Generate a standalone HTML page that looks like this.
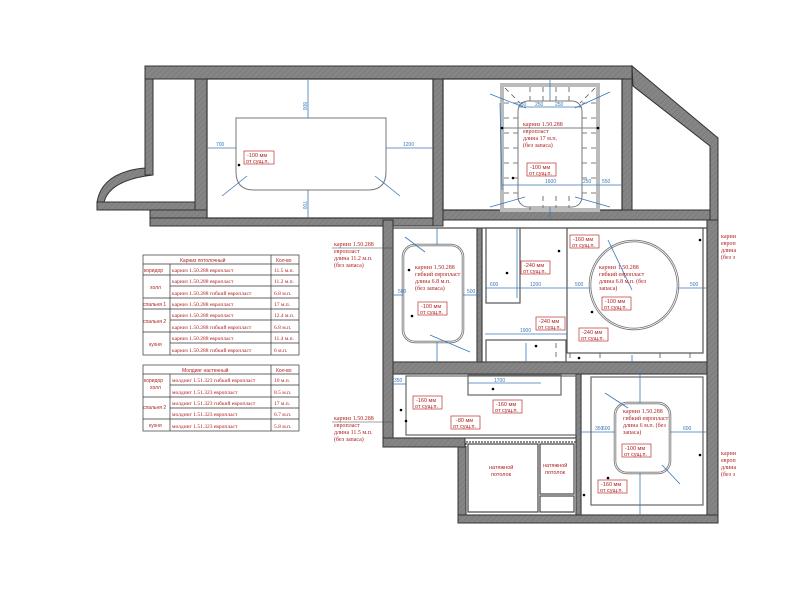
<!DOCTYPE html>
<html><head><meta charset="utf-8"><style>
html,body{margin:0;padding:0;background:#fff;width:800px;height:600px;overflow:hidden}
svg{display:block}
.ln{stroke:#777;stroke-width:1.2;fill:none}
.d{stroke:#3a78b8;stroke-width:0.8;fill:none}
.dt{fill:#3a78b8;font:5px "Liberation Sans",sans-serif}
.r{fill:#b02020;font:6px "Liberation Serif",serif}
.rs{fill:#b02020;font:5.5px "Liberation Sans",sans-serif}
.bx{fill:#fff;stroke:#c03030;stroke-width:0.7}
.t{fill:#b02020;font:5.5px "Liberation Serif",serif}
.th{fill:#b02020;font:5px "Liberation Sans",sans-serif}
.tb{fill:none;stroke:#333;stroke-width:0.7}
.dsh{stroke:#555;stroke-width:0.8;stroke-dasharray:5,4;fill:none}
</style></head><body>
<svg width="800" height="600" viewBox="0 0 800 600" xmlns="http://www.w3.org/2000/svg">
<defs><pattern id="h" width="4" height="4" patternUnits="userSpaceOnUse" patternTransform="rotate(45)"><rect width="4" height="4" fill="#858585"/><line x1="0" y1="0" x2="0" y2="4" stroke="#747474" stroke-width="1"/></pattern></defs>
<g fill="url(#h)" stroke="#333" stroke-width="1">
<rect x="145" y="66" width="487" height="13"/>
<rect x="145" y="79" width="8" height="96"/>
<path d="M145,175 L153,175 Q110,180 104,202 L97,202 Q102,172 145,168Z"/>
<rect x="97" y="202" width="110" height="8"/>
<rect x="195" y="79" width="12" height="140"/>
<rect x="150" y="210" width="57" height="10"/>
<rect x="150" y="218" width="292" height="8"/>
<rect x="433" y="79" width="10" height="147"/>
<rect x="443" y="210" width="275" height="10"/>
<rect x="622" y="79" width="10" height="131"/>
<path d="M632,66 L718,138 L718,220 L710,220 L710,146 L633,86Z"/>
<rect x="707" y="220" width="11" height="303"/>
<rect x="383" y="220" width="10" height="227"/>
<rect x="393" y="362" width="314" height="12"/>
<rect x="383" y="438" width="82" height="9"/>
<rect x="458" y="447" width="8" height="76"/>
<rect x="458" y="515" width="260" height="8"/>
<rect x="477" y="228" width="5" height="134"/>
<rect x="576" y="374" width="5" height="141"/>
</g>
<g class="ln">
<rect x="207" y="79" width="226" height="139" stroke="#333"/>
<rect x="443" y="79" width="179" height="131" stroke="#333"/>
<rect x="393" y="228" width="84" height="134" stroke="#444"/>
<rect x="482" y="228" width="225" height="134" stroke="#444"/>
<rect x="567" y="228" width="136" height="125" stroke="#555"/>
<rect x="393" y="374" width="183" height="64" stroke="#444"/>
<rect x="406" y="376" width="170" height="59" stroke="#666"/>
<rect x="468" y="375" width="93" height="20" stroke="#666"/>
<rect x="466" y="442" width="110" height="73" stroke="#444" stroke-dasharray="2,1"/>
<rect x="468" y="444" width="70" height="68" stroke="#444"/>
<rect x="540" y="444" width="34" height="50" stroke="#444"/>
<rect x="540" y="496" width="34" height="16" stroke="#444"/>
<rect x="581" y="374" width="126" height="141" stroke="#444"/>
<rect x="591" y="377" width="112" height="128" stroke="#666"/>
<rect x="486" y="228" width="34" height="75" stroke="#555"/>
<rect x="486" y="340" width="80" height="22" stroke="#555"/>
</g>
<path d="M236,118 L386,118 L386,172 Q386,190 368,190 L254,190 Q236,190 236,172Z" fill="none" stroke="#777" stroke-width="1"/>
<rect x="502" y="85" width="96" height="125" fill="none" stroke="#bbb" stroke-width="4"/>
<g class="dsh">
<line x1="504" y1="103" x2="518" y2="103"/><line x1="504" y1="118" x2="518" y2="118"/><line x1="504" y1="133" x2="518" y2="133"/><line x1="504" y1="148" x2="518" y2="148"/><line x1="504" y1="163" x2="518" y2="163"/><line x1="504" y1="178" x2="518" y2="178"/><line x1="504" y1="193" x2="518" y2="193"/>
<line x1="582" y1="103" x2="596" y2="103"/><line x1="582" y1="118" x2="596" y2="118"/><line x1="582" y1="133" x2="596" y2="133"/><line x1="582" y1="148" x2="596" y2="148"/><line x1="582" y1="163" x2="596" y2="163"/><line x1="582" y1="178" x2="596" y2="178"/><line x1="582" y1="193" x2="596" y2="193"/>
<line x1="530" y1="87" x2="530" y2="101"/><line x1="543" y1="87" x2="543" y2="101"/><line x1="556" y1="87" x2="556" y2="101"/><line x1="569" y1="87" x2="569" y2="101"/>
<line x1="530" y1="207" x2="530" y2="210"/><line x1="543" y1="196" x2="543" y2="208"/><line x1="556" y1="196" x2="556" y2="208"/><line x1="569" y1="196" x2="569" y2="208"/>
<line x1="505" y1="88" x2="520" y2="103"/><line x1="595" y1="88" x2="580" y2="103"/>
</g>
<line x1="502" y1="128" x2="598" y2="128" stroke="#555" stroke-width="0.8"/>
<rect x="518" y="101" width="64" height="106" rx="10" fill="none" stroke="#777"/>
<rect x="403" y="245" width="60" height="97" rx="12" fill="none" stroke="#777" stroke-width="2.5"/>
<rect x="403" y="245" width="60" height="97" rx="12" fill="none" stroke="#fff" stroke-width="0.8"/>
<circle cx="634" cy="285" r="44" fill="none" stroke="#777" stroke-width="2.5"/>
<circle cx="634" cy="285" r="44" fill="none" stroke="#fff" stroke-width="0.8"/>
<rect x="615" y="403" width="55" height="70" rx="12" fill="none" stroke="#777" stroke-width="2.5"/>
<rect x="615" y="403" width="55" height="70" rx="12" fill="none" stroke="#fff" stroke-width="0.8"/>
<g class="dsh" stroke-dasharray="4,3">
<line x1="570" y1="353" x2="570" y2="362"/><line x1="600" y1="353" x2="600" y2="362"/><line x1="660" y1="353" x2="660" y2="362"/><line x1="690" y1="353" x2="690" y2="362"/>
<line x1="556" y1="343" x2="556" y2="362"/>
</g>
<g class="d">
<line x1="308" y1="80" x2="308" y2="118"/><line x1="308" y1="190" x2="308" y2="218"/>
<line x1="207" y1="148" x2="236" y2="148"/><line x1="386" y1="148" x2="433" y2="148"/>
<line x1="222" y1="196" x2="247" y2="176"/><line x1="375" y1="176" x2="400" y2="196"/>
<line x1="500" y1="103" x2="502" y2="190"/><line x1="502" y1="185" x2="622" y2="185"/>
<line x1="550" y1="80" x2="550" y2="101"/><line x1="550" y1="207" x2="550" y2="218"/>
<line x1="519" y1="107" x2="582" y2="107"/>
<line x1="490" y1="94" x2="526" y2="108"/><line x1="575" y1="108" x2="610" y2="92"/>
<line x1="490" y1="207" x2="525" y2="197"/><line x1="575" y1="197" x2="610" y2="207"/>
<line x1="437" y1="228" x2="437" y2="245"/><line x1="437" y1="342" x2="437" y2="362"/>
<line x1="393" y1="295" x2="403" y2="295"/><line x1="463" y1="295" x2="482" y2="295"/>
<line x1="485" y1="288" x2="567" y2="288"/><line x1="517" y1="228" x2="517" y2="298"/>
<line x1="567" y1="288" x2="590" y2="288"/><line x1="678" y1="288" x2="707" y2="288"/>
<line x1="608" y1="240" x2="632" y2="290"/>
<line x1="485" y1="334" x2="567" y2="334"/>
<line x1="526" y1="343" x2="526" y2="362"/><line x1="632" y1="355" x2="632" y2="362"/>
<line x1="430" y1="335" x2="470" y2="352"/><line x1="405" y1="237" x2="425" y2="252"/>
<line x1="468" y1="383" x2="541" y2="383"/>
<line x1="393" y1="384" x2="406" y2="384"/>
<line x1="640" y1="374" x2="640" y2="403"/><line x1="640" y1="473" x2="640" y2="515"/>
<line x1="581" y1="432" x2="615" y2="432"/><line x1="670" y1="432" x2="707" y2="432"/>
<line x1="605" y1="393" x2="628" y2="408"/><line x1="662" y1="465" x2="680" y2="484"/>
</g>
<g class="dt">
<text x="302" y="105" transform="rotate(90 304 104)">800</text>
<text x="302" y="204" transform="rotate(90 304 203)">700</text>
<text x="216" y="146">700</text><text x="403" y="146">1200</text>
<text x="518" y="106">250</text><text x="535" y="106">250</text><text x="555" y="106">250</text>
<text x="545" y="183">1600</text><text x="583" y="183">250</text><text x="602" y="183">550</text>
<text x="398" y="293">500</text><text x="467" y="293">500</text>
<text x="490" y="286">600</text><text x="530" y="286">1200</text><text x="575" y="286">500</text><text x="690" y="286">500</text>
<text x="520" y="332">1900</text><text x="494" y="382">1700</text><text x="394" y="382">350</text>
<text x="595" y="430">350</text><text x="602" y="430">600</text><text x="683" y="430">600</text>
</g>
<g>
<rect x="244" y="151" width="30" height="13" class="bx"/><text x="247" y="157" class="rs">-100 мм</text><text x="246" y="163" class="rs">от сущ.п.</text>
<text x="523" y="126" class="r">карниз 1.50.288</text><text x="523" y="133" class="r">европласт</text><text x="523" y="140" class="r">длина 17 м.п.</text><text x="523" y="147" class="r">(без запаса)</text>
<rect x="527" y="163" width="29" height="13" class="bx"/><text x="530" y="169" class="rs">-100 мм</text><text x="529" y="175" class="rs">от сущ.п.</text>
<text x="415" y="269" class="r">карниз 1.50.288</text><text x="415" y="276" class="r">гибкий европласт</text><text x="415" y="283" class="r">длина 6.8 м.п.</text><text x="415" y="290" class="r">(без запаса)</text>
<rect x="418" y="302" width="29" height="13" class="bx"/><text x="421" y="308" class="rs">-100 мм</text><text x="420" y="314" class="rs">от сущ.п.</text>
<rect x="521" y="261" width="29" height="13" class="bx"/><text x="524" y="267" class="rs">-240 мм</text><text x="523" y="273" class="rs">от сущ.п.</text>
<rect x="570" y="235" width="29" height="13" class="bx"/><text x="573" y="241" class="rs">-160 мм</text><text x="572" y="247" class="rs">от сущ.п.</text>
<text x="599" y="269" class="r">карниз 1.50.288</text><text x="599" y="276" class="r">гибкий европласт</text><text x="599" y="283" class="r">длина 6.8 м.п. (без</text><text x="599" y="290" class="r">запаса)</text>
<rect x="602" y="297" width="29" height="13" class="bx"/><text x="605" y="303" class="rs">-100 мм</text><text x="604" y="309" class="rs">от сущ.п.</text>
<rect x="536" y="317" width="29" height="13" class="bx"/><text x="539" y="323" class="rs">-240 мм</text><text x="538" y="329" class="rs">от сущ.п.</text>
<rect x="579" y="328" width="29" height="13" class="bx"/><text x="582" y="334" class="rs">-240 мм</text><text x="581" y="340" class="rs">от сущ.п.</text>
<rect x="413" y="396" width="29" height="13" class="bx"/><text x="416" y="402" class="rs">-160 мм</text><text x="415" y="408" class="rs">от сущ.п.</text>
<rect x="493" y="400" width="29" height="13" class="bx"/><text x="496" y="406" class="rs">-160 мм</text><text x="495" y="412" class="rs">от сущ.п.</text>
<rect x="451" y="416" width="29" height="13" class="bx"/><text x="456" y="422" class="rs">-80 мм</text><text x="453" y="428" class="rs">от сущ.п.</text>
<text x="489" y="469" class="rs">натяжной</text><text x="491" y="476" class="rs">потолок</text>
<text x="543" y="467" class="rs">натяжной</text><text x="545" y="474" class="rs">потолок</text>
<text x="623" y="413" class="r">карниз 1.50.288</text><text x="623" y="420" class="r">гибкий европласт</text><text x="623" y="427" class="r">длина 6 м.п. (без</text><text x="623" y="434" class="r">запаса)</text>
<rect x="622" y="444" width="29" height="13" class="bx"/><text x="625" y="450" class="rs">-100 мм</text><text x="624" y="456" class="rs">от сущ.п.</text>
<rect x="598" y="480" width="29" height="13" class="bx"/><text x="601" y="486" class="rs">-160 мм</text><text x="600" y="492" class="rs">от сущ.п.</text>
<text x="334" y="246" class="r">карниз 1.50.288</text><text x="334" y="253" class="r">европласт</text><text x="334" y="260" class="r">длина 11.2 м.п.</text><text x="334" y="267" class="r">(без запаса)</text>
<line x1="332" y1="248" x2="393" y2="248" stroke="#444" stroke-width="0.6"/>
<text x="334" y="420" class="r">карниз 1.50.288</text><text x="334" y="427" class="r">европласт</text><text x="334" y="434" class="r">длина 11.5 м.п.</text><text x="334" y="441" class="r">(без запаса)</text>
<line x1="332" y1="422" x2="393" y2="422" stroke="#444" stroke-width="0.6"/>
<text x="721" y="238" class="r">карни</text><text x="721" y="245" class="r">европ</text><text x="721" y="252" class="r">длина</text><text x="721" y="259" class="r">(без з</text>
<text x="721" y="455" class="r">карни</text><text x="721" y="462" class="r">европ</text><text x="721" y="469" class="r">длина</text><text x="721" y="476" class="r">(без з</text>
</g>
<g fill="#000">
<circle cx="239" cy="165" r="1.3"/><circle cx="502" cy="128" r="1.3"/><circle cx="598" cy="128" r="1.3"/><circle cx="513" cy="178" r="1.3"/>
<circle cx="412" cy="316" r="1.3"/><circle cx="409" cy="270" r="1.3"/><circle cx="559" cy="251" r="1.3"/><circle cx="507" cy="273" r="1.3"/>
<circle cx="592" cy="312" r="1.3"/><circle cx="536" cy="346" r="1.3"/><circle cx="579" cy="358" r="1.3"/><circle cx="700" cy="240" r="1.3"/>
<circle cx="401" cy="410" r="1.3"/><circle cx="493" cy="389" r="1.3"/><circle cx="406" cy="421" r="1.3"/><circle cx="608" cy="478" r="1.3"/><circle cx="584" cy="495" r="1.3"/><circle cx="700" cy="455" r="1.3"/>
</g>
<g>
<rect x="143" y="255" width="156" height="100" class="tb"/>
<line x1="143" y1="264" x2="299" y2="264" class="tb"/>
<line x1="271" y1="255" x2="271" y2="355" class="tb"/>
<line x1="170" y1="264" x2="170" y2="355" class="tb"/>
<line x1="143" y1="275" x2="299" y2="275" class="tb"/>
<line x1="170" y1="286" x2="299" y2="286" class="tb"/>
<line x1="143" y1="298" x2="299" y2="298" class="tb"/>
<line x1="143" y1="309" x2="299" y2="309" class="tb"/>
<line x1="170" y1="320" x2="299" y2="320" class="tb"/>
<line x1="143" y1="332" x2="299" y2="332" class="tb"/>
<line x1="170" y1="343" x2="299" y2="343" class="tb"/>
<text x="180" y="262" class="th">Карниз потолочный</text><text x="276" y="262" class="th">Кол-во</text>
<text x="144" y="272" class="th">коридор</text><text x="150" y="289" class="th">холл</text><text x="143" y="306" class="th">спальня 1</text><text x="143" y="323" class="th">спальня 2</text><text x="149" y="346" class="th">кухня</text>
<text x="172" y="272" class="t">карниз 1.50.288 европласт</text><text x="274" y="272" class="t">11.5 м.п.</text>
<text x="172" y="283" class="t">карниз 1.50.288 европласт</text><text x="274" y="283" class="t">11.2 м.п.</text>
<text x="172" y="295" class="t">карниз 1.50.288 гибкий европласт</text><text x="274" y="295" class="t">6.8 м.п.</text>
<text x="172" y="306" class="t">карниз 1.50.288 европласт</text><text x="274" y="306" class="t">17 м.п.</text>
<text x="172" y="317" class="t">карниз 1.50.288 европласт</text><text x="274" y="317" class="t">12.4 м.п.</text>
<text x="172" y="329" class="t">карниз 1.50.288 гибкий европласт</text><text x="274" y="329" class="t">6.8 м.п.</text>
<text x="172" y="340" class="t">карниз 1.50.288 европласт</text><text x="274" y="340" class="t">11.4 м.п.</text>
<text x="172" y="352" class="t">карниз 1.50.288 гибкий европласт</text><text x="274" y="352" class="t">6 м.п.</text>
<rect x="143" y="365" width="156" height="66" class="tb"/>
<line x1="143" y1="374" x2="299" y2="374" class="tb"/>
<line x1="271" y1="365" x2="271" y2="431" class="tb"/>
<line x1="170" y1="374" x2="170" y2="431" class="tb"/>
<line x1="170" y1="385" x2="299" y2="385" class="tb"/>
<line x1="143" y1="397" x2="299" y2="397" class="tb"/>
<line x1="170" y1="408" x2="299" y2="408" class="tb"/>
<line x1="143" y1="419" x2="299" y2="419" class="tb"/>
<text x="182" y="372" class="th">Молдинг настенный</text><text x="276" y="372" class="th">Кол-во</text>
<text x="144" y="382" class="th">коридор</text><text x="150" y="389" class="th">холл</text><text x="143" y="409" class="th">спальня 2</text><text x="149" y="427" class="th">кухня</text>
<text x="172" y="382" class="t">молдинг 1.51.323 гибкий европласт</text><text x="274" y="382" class="t">10 м.п.</text>
<text x="172" y="394" class="t">молдинг 1.51.323 европласт</text><text x="274" y="394" class="t">8.5 м.п.</text>
<text x="172" y="405" class="t">молдинг 1.51.323 гибкий европласт</text><text x="274" y="405" class="t">17 м.п.</text>
<text x="172" y="416" class="t">молдинг 1.51.323 европласт</text><text x="274" y="416" class="t">6.7 м.п.</text>
<text x="172" y="428" class="t">молдинг 1.51.323 европласт</text><text x="274" y="428" class="t">5.8 м.п.</text>
</g>
</svg>
</body></html>
